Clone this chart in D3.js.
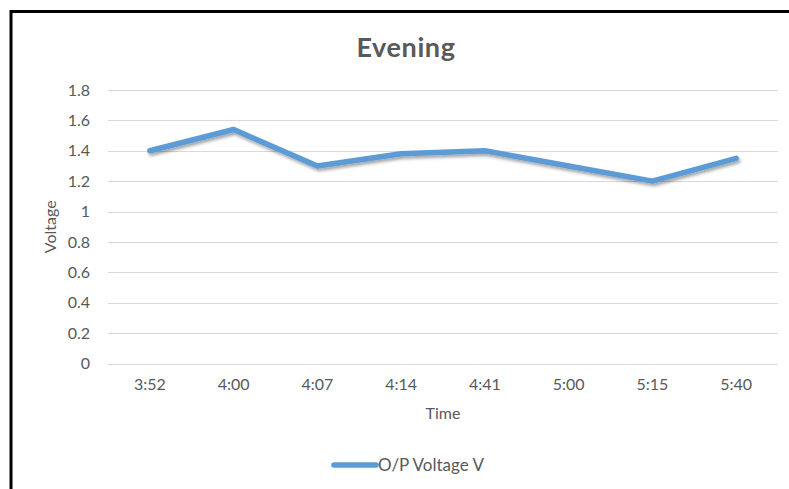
<!DOCTYPE html>
<html>
<head>
<meta charset="utf-8">
<script src="https://cdn.jsdelivr.net/npm/d3@7"></script>
<style>
  html, body { margin: 0; padding: 0; background: #fff; overflow: hidden; }
  svg { display: block; }
  text { font-family: Lato, "Open Sans", sans-serif; fill: #595959; }
</style>
</head>
<body>
<svg id="chart" width="789" height="489"></svg>
<script>
// Output voltage readings taken through the evening
const times = ["3:52", "4:00", "4:07", "4:14", "4:41", "5:00", "5:15", "5:40"];
const voltages = [1.40, 1.54, 1.30, 1.38, 1.40, 1.30, 1.20, 1.35];
const yTicks = [0, 0.2, 0.4, 0.6, 0.8, 1, 1.2, 1.4, 1.6, 1.8];
const seriesName = "O/P Voltage V";
const chartTitle = "Evening";
const xTitle = "Time";
const yTitle = "Voltage";

const svg = d3.select("#chart");
const plot = { left: 108, right: 778, top: 90, bottom: 363.5 };
const labelFont = "Lato, 'Open Sans', sans-serif";

// Drop shadow for the series line
const defs = svg.append("defs");
const f = defs.append("filter").attr("id", "shadow")
  .attr("x", "-5%").attr("y", "-20%").attr("width", "110%").attr("height", "160%");
f.append("feDropShadow").attr("dx", 1.5).attr("dy", 2.5).attr("stdDeviation", 1.6)
  .attr("flood-color", "#000").attr("flood-opacity", 0.35);

// Frame
svg.append("rect")
  .attr("x", 11).attr("y", 11.5).attr("width", 900).attr("height", 600)
  .attr("fill", "none").attr("stroke", "#000").attr("stroke-width", 3);

const x = d3.scaleBand().domain(times).range([plot.left, plot.right]);
const y = d3.scaleLinear().domain([0, 1.8]).range([plot.bottom, plot.top]);

// Horizontal gridlines
svg.append("g").selectAll("line").data(yTicks).join("line")
  .attr("x1", plot.left).attr("x2", plot.right)
  .attr("y1", d => Math.round(y(d)) + 0.5).attr("y2", d => Math.round(y(d)) + 0.5)
  .attr("stroke", "#d9d9d9").attr("stroke-width", 1.2);

// Y axis labels
const yAxis = svg.append("g").attr("transform", `translate(${plot.left},0)`)
  .call(d3.axisLeft(y).tickValues(yTicks).tickSize(0).tickPadding(18).tickFormat(d => String(d)));
yAxis.select(".domain").remove();
yAxis.selectAll("text").style("font-size", "16px").attr("fill", "#595959")
  .style("font-family", labelFont);

// X axis labels
const xAxis = svg.append("g").attr("transform", `translate(0,${plot.bottom})`)
  .call(d3.axisBottom(x).tickSize(0).tickPadding(15));
xAxis.select(".domain").remove();
xAxis.selectAll("text").style("font-size", "16px").attr("fill", "#595959")
  .style("font-family", labelFont);

// Series line
const line = d3.line().x((d, i) => x(times[i]) + x.bandwidth() / 2).y(d => y(d));
svg.append("path").datum(voltages)
  .attr("d", line).attr("fill", "none")
  .attr("stroke", "#5b9bd5").attr("stroke-width", 5.5)
  .attr("stroke-linejoin", "round").attr("stroke-linecap", "round")
  .attr("filter", "url(#shadow)");

// Title
svg.append("text").attr("x", 406).attr("y", 57).attr("text-anchor", "middle")
  .style("font-size", "27px").style("font-weight", "bold").style("letter-spacing", "0.6px")
  .text(chartTitle);

// Axis titles
svg.append("text").attr("x", (plot.left + plot.right) / 2).attr("y", 419)
  .attr("text-anchor", "middle").style("font-size", "16px").text(xTitle);
svg.append("text").attr("transform", `translate(56,${(plot.top + plot.bottom) / 2}) rotate(-90)`)
  .attr("text-anchor", "middle").style("font-size", "16px").text(yTitle);

// Legend
const lg = svg.append("g").attr("transform", "translate(333,465)");
lg.append("line").attr("x1", 1).attr("x2", 43).attr("y1", 0).attr("y2", 0)
  .attr("stroke", "#5b9bd5").attr("stroke-width", 5.5).attr("stroke-linecap", "round");
lg.append("text").attr("x", 45).attr("y", 6).style("font-size", "17px").text(seriesName);
</script>
</body>
</html>
